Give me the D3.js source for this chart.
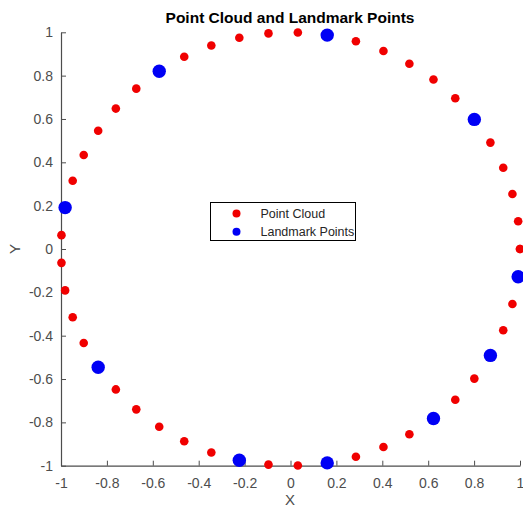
<!DOCTYPE html>
<html>
<head>
<meta charset="utf-8">
<script src="https://d3js.org/d3.v7.min.js"></script>
<style>
  html, body { margin: 0; padding: 0; background: #fff; }
  svg { display: block; font-family: "Liberation Sans", Arial, sans-serif; }
</style>
</head>
<body>
<svg id="chart" width="523" height="506"></svg>
<script>
// ── Daten ──────────────────────────────────────────────
const cloudX = [
  1.000, 0.992, 0.967, 0.927, 0.871, 0.801, 0.718, 0.623, 0.518, 0.405,
  0.285, 0.160, 0.032, -0.096, -0.223, -0.345, -0.463, -0.572, -0.672, -0.761,
  -0.838, -0.901, -0.949, -0.982, -0.998, -0.998, -0.982, -0.949, -0.901, -0.838,
  -0.761, -0.672, -0.572, -0.463, -0.345, -0.223, -0.096, 0.032, 0.160, 0.285,
  0.405, 0.518, 0.623, 0.718, 0.801, 0.871, 0.927, 0.967, 0.992, 1.000
];
const cloudY = [
  0.000, 0.128, 0.254, 0.375, 0.491, 0.598, 0.696, 0.782, 0.855, 0.914,
  0.959, 0.987, 0.999, 0.995, 0.975, 0.939, 0.887, 0.820, 0.740, 0.648,
  0.546, 0.434, 0.315, 0.191, 0.064, -0.064, -0.191, -0.315, -0.434, -0.546,
  -0.648, -0.740, -0.820, -0.887, -0.939, -0.975, -0.995, -0.999, -0.987, -0.959,
  -0.914, -0.855, -0.782, -0.696, -0.598, -0.491, -0.375, -0.254, -0.128, 0.000
];
const landmarkX = [0.801, 0.160, -0.572, -0.982, -0.838, -0.223, 0.160, 0.623, 0.871, 0.992];
const landmarkY = [0.598, 0.987, 0.820, 0.191, -0.546, -0.975, -0.987, -0.782, -0.491, -0.128];

const xTicks = [-1, -0.8, -0.6, -0.4, -0.2, 0, 0.2, 0.4, 0.6, 0.8, 1];
const yTicks = [-1, -0.8, -0.6, -0.4, -0.2, 0, 0.2, 0.4, 0.6, 0.8, 1];
const legendLabels = ['Point Cloud', 'Landmark Points'];

const titleText = 'Point Cloud and Landmark Points';
const xLabel = 'X';
const yLabel = 'Y';

// ── Layout ─────────────────────────────────────────────
const W = 523, H = 506;
const M = { left: 61, right: 3, top: 32.3, bottom: 40.3 };
const AXIS = '#4d4d4d', TEXT = '#4d4d4d';
const RED = '#f00000', BLUE = '#0000f5';

const svg = d3.select('#chart');

const x = d3.scaleLinear().domain([-1, 1]).range([M.left, W - M.right]);
const y = d3.scaleLinear().domain([-1, 1]).range([H - M.bottom, M.top]);

const fmt = d => String(+d.toFixed(1));

// Achsen (Ticks nach innen, wie MATLAB)
const gx = svg.append('g')
  .attr('transform', `translate(0,${y(-1)})`)
  .call(d3.axisBottom(x).tickValues(xTicks).tickFormat(fmt)
    .tickSizeInner(-5).tickSizeOuter(0).tickPadding(12));

const gy = svg.append('g')
  .attr('transform', `translate(${x(-1)},0)`)
  .call(d3.axisLeft(y).tickValues(yTicks).tickFormat(fmt)
    .tickSizeInner(-5).tickSizeOuter(0).tickPadding(8));

[gx, gy].forEach(g => {
  g.select('.domain').attr('stroke', AXIS).attr('stroke-width', 1.2);
  g.selectAll('.tick line').attr('stroke', AXIS).attr('stroke-width', 1);
  g.selectAll('.tick text')
    .attr('fill', TEXT)
    .attr('font-size', 14)
    .attr('font-family', '"Liberation Sans", Arial, sans-serif');
});

// Punktwolke
svg.append('g').selectAll('circle')
  .data(d3.zip(cloudX, cloudY)).join('circle')
    .attr('cx', d => x(d[0]))
    .attr('cy', d => y(d[1]))
    .attr('r', 4.3)
    .attr('fill', RED);

// Landmarken
svg.append('g').selectAll('circle')
  .data(d3.zip(landmarkX, landmarkY)).join('circle')
    .attr('cx', d => x(d[0]))
    .attr('cy', d => y(d[1]))
    .attr('r', 6.7)
    .attr('fill', BLUE);

// Titel + Achsenbeschriftung
svg.append('text')
  .attr('x', 290).attr('y', 22.5)
  .attr('text-anchor', 'middle')
  .attr('font-size', 15.5).attr('font-weight', 'bold')
  .attr('fill', '#000')
  .text(titleText);

svg.append('text')
  .attr('x', 290).attr('y', 504.5)
  .attr('text-anchor', 'middle')
  .attr('font-size', 15)
  .attr('fill', TEXT)
  .text(xLabel);

svg.append('text')
  .attr('transform', 'translate(20,249) rotate(-90)')
  .attr('text-anchor', 'middle')
  .attr('font-size', 15)
  .attr('fill', TEXT)
  .text(yLabel);

// Legende
const lg = svg.append('g').attr('transform', 'translate(210.5,202.5)');
lg.append('rect')
  .attr('width', 145).attr('height', 38)
  .attr('fill', '#fff').attr('stroke', '#000').attr('stroke-width', 1);

const items = lg.selectAll('g.item')
  .data(legendLabels).join('g')
    .attr('class', 'item')
    .attr('transform', (d, i) => `translate(0,${11 + i * 18.3})`);

items.append('circle')
  .attr('cx', 26).attr('cy', 0).attr('r', 4)
  .attr('fill', (d, i) => i === 0 ? RED : BLUE);

items.append('text')
  .attr('x', 50).attr('y', 0).attr('dy', '0.35em')
  .attr('font-size', 12.5)
  .attr('fill', '#262626')
  .text(d => d);
</script>
</body>
</html>
